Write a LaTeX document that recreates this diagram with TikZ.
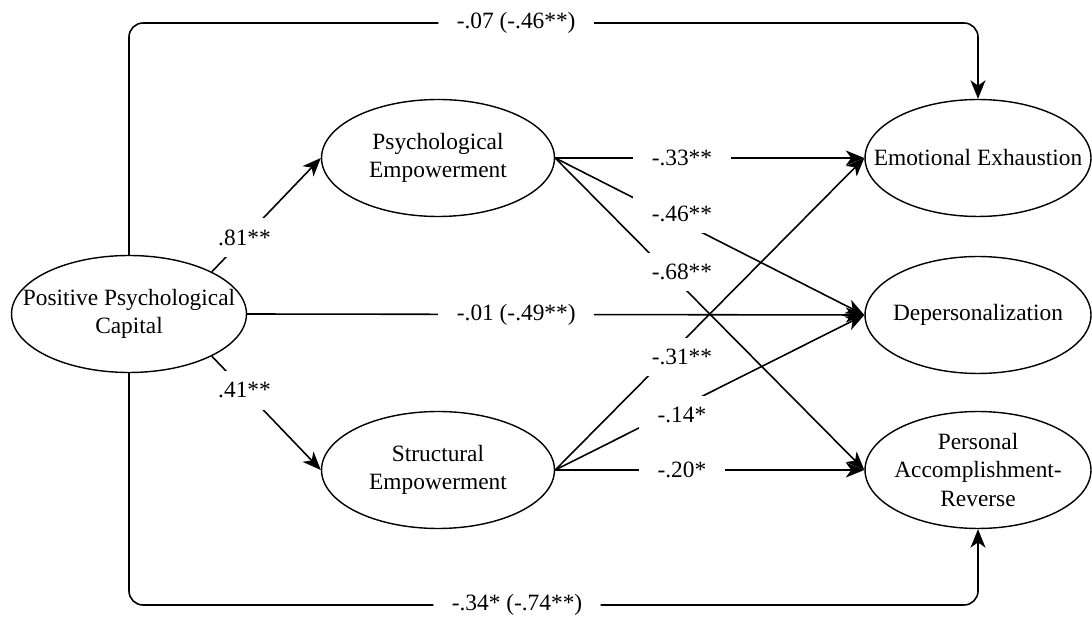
\documentclass[tikz,border=0pt]{standalone}
\usepackage{fontspec}
\setmainfont{Liberation Serif}
\usetikzlibrary{arrows.meta,positioning,shapes.geometric}

\begin{document}
\begin{tikzpicture}[x=0.02cm,y=-0.02cm,line width=.9pt,
  every node/.style={font=\fontsize{13.3}{16.2}\selectfont},
  lat/.style={ellipse,draw,line width=.8pt,align=center,inner xsep=-22pt,inner ysep=-4pt,minimum width=4.52cm,minimum height=2.34cm},
  coef/.style={fill=white,inner xsep=10.5pt,inner ysep=6.5pt},
  pth/.style={-{Stealth[length=10.5pt,width=8.5pt,inset=3pt]}}]
\useasboundingbox (0,0) rectangle (1092,617);
\coordinate (top) at (0,23);
\coordinate (bot) at (0,605);
\node[lat,minimum width=4.70cm] (ppc) at (129,314) {Positive Psychological\\Capital};
\node[lat,minimum width=4.66cm] (pe) at (438,158) {Psychological\\Empowerment};
\node[lat,minimum width=4.66cm] (se) at (438,470) {Structural\\Empowerment};
\node[lat] (ee) at (978,158) {Emotional Exhaustion};
\node[lat] (dp) at (978,315) {Depersonalization};
\node[lat] (par) at (978,470) {Personal\\Accomplishment-\\Reverse};
\draw[pth,rounded corners=8pt] (ppc.north) -- (ppc.north |- top) -- node[coef,pos=.456]{-.07 (-.46**)} (ee.north |- top) -- (ee.north);
\draw[pth,rounded corners=8pt] (ppc.south) -- (ppc.south |- bot) -- node[coef,pos=.457]{-.34* (-.74**)} (par.south |- bot) -- (par.south);
\draw[pth] (ppc.east) -- node[coef,pos=.436]{-.01 (-.49**)} (dp.west);
\draw[pth] (ppc.27) -- node[coef,pos=.3]{.81**} (pe.west);
\draw[pth] (ppc.-27) -- node[coef,pos=.3]{.41**} (se.west);
\draw[pth] (pe.east) -- node[coef,pos=.41]{-.33**} (ee.west);
\draw[pth] (pe.east) -- node[coef,pos=.41,yshift=5pt]{-.46**} (dp.west);
\draw[pth] (pe.east) -- node[coef,pos=.41,yshift=8pt]{-.68**} (par.west);
\draw[pth] (se.east) -- node[coef,pos=.41,yshift=-8.5pt]{-.31**} (ee.west);
\draw[pth] (se.east) -- node[coef,pos=.41,yshift=-5pt]{-.14*} (dp.west);
\draw[pth] (se.east) -- node[coef,pos=.41]{-.20*} (par.west);
\end{tikzpicture}
\end{document}
